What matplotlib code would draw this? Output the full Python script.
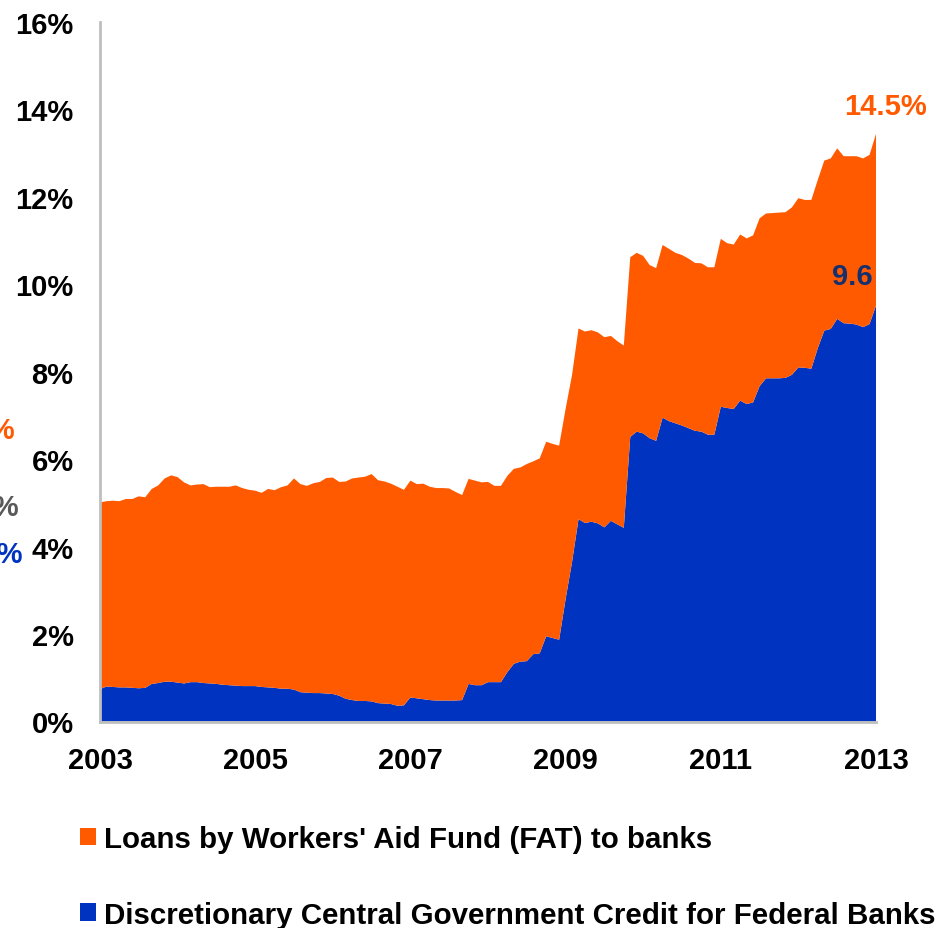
import numpy as np
import matplotlib
matplotlib.use("Agg")
import matplotlib.pyplot as plt
from matplotlib.patches import Patch

plt.rcParams['font.family'] = ['Liberation Sans', 'DejaVu Sans']
plt.rcParams['font.weight'] = 'bold'

# Monthly observations, Jan 2003 .. Jan 2013 (% of GDP)
start_year = 2003
n_months = 121

gov_credit = [
    0.74, 0.80, 0.79, 0.78, 0.78, 0.77, 0.76, 0.77, 0.86, 0.88, 0.91, 0.91,
    0.89, 0.87, 0.90, 0.90, 0.88, 0.87, 0.86, 0.84, 0.83, 0.82, 0.81, 0.81,
    0.81, 0.79, 0.78, 0.77, 0.75, 0.75, 0.73, 0.67, 0.66, 0.65, 0.65, 0.64,
    0.63, 0.59, 0.52, 0.49, 0.47, 0.47, 0.46, 0.42, 0.41, 0.40, 0.36, 0.37,
    0.55, 0.53, 0.51, 0.49, 0.48, 0.48, 0.48, 0.48, 0.49, 0.86, 0.83, 0.83,
    0.90, 0.90, 0.90, 1.13, 1.32, 1.37, 1.38, 1.54, 1.56, 1.95, 1.91, 1.87,
    2.80, 3.65, 4.63, 4.54, 4.57, 4.53, 4.44, 4.59, 4.51, 4.43, 6.51, 6.63,
    6.59, 6.48, 6.42, 6.95, 6.87, 6.82, 6.77, 6.71, 6.65, 6.63, 6.56, 6.56,
    7.20, 7.17, 7.15, 7.34, 7.26, 7.30, 7.67, 7.85, 7.85, 7.85, 7.86, 7.93,
    8.10, 8.09, 8.07, 8.54, 8.94, 8.98, 9.21, 9.11, 9.10, 9.08, 9.02, 9.09,
    9.51,
]

fat_loans = [
    4.27, 4.24, 4.26, 4.26, 4.31, 4.32, 4.39, 4.36, 4.46, 4.52, 4.65, 4.72,
    4.70, 4.60, 4.50, 4.52, 4.55, 4.49, 4.51, 4.53, 4.54, 4.58, 4.53, 4.49,
    4.47, 4.44, 4.54, 4.52, 4.61, 4.65, 4.83, 4.76, 4.73, 4.80, 4.83, 4.93,
    4.95, 4.89, 4.97, 5.07, 5.11, 5.13, 5.20, 5.10, 5.08, 5.04, 5.01, 4.93,
    4.96, 4.90, 4.93, 4.88, 4.86, 4.86, 4.85, 4.77, 4.69, 4.69, 4.68, 4.64,
    4.58, 4.49, 4.49, 4.49, 4.46, 4.44, 4.51, 4.41, 4.46, 4.45, 4.44, 4.44,
    4.35, 4.28, 4.36, 4.38, 4.38, 4.37, 4.35, 4.23, 4.19, 4.17, 4.11, 4.09,
    4.06, 3.96, 3.95, 3.95, 3.94, 3.90, 3.90, 3.88, 3.84, 3.85, 3.83, 3.83,
    3.84, 3.77, 3.76, 3.80, 3.79, 3.82, 3.84, 3.77, 3.78, 3.79, 3.79, 3.83,
    3.87, 3.84, 3.86, 3.85, 3.89, 3.90, 3.90, 3.82, 3.83, 3.85, 3.86, 3.87,
    3.93,
]

series_labels = [
    "Loans by Workers' Aid Fund (FAT) to banks",
    "Discretionary Central Government Credit for Federal Banks",
]

year_ticks = [2003, 2005, 2007, 2009, 2011, 2013]
pct_ticks = [0, 2, 4, 6, 8, 10, 12, 14, 16]

total_label = "14.5%"
gov_label = "9.6"

ORANGE = "#FF5A00"
BLUE = "#0033C0"
NAVY = "#14306E"
GRAY_TXT = "#595959"
AXIS_GRAY = "#BFBFBF"

x = start_year + np.arange(n_months) / 12.0

fig = plt.figure(figsize=(9.47, 9.29), dpi=100)
ax = fig.add_axes([100 / 947, 1 - 722.5 / 929, 776 / 947, 699.5 / 929])

ax.stackplot(x, gov_credit, fat_loans, colors=[BLUE, ORANGE], linewidth=0)

ax.set_xlim(2003, 2013)
ax.set_ylim(0, 16)
ax.set_xticks(year_ticks)
ax.set_xticklabels([str(y) for y in year_ticks])
ax.set_yticks(pct_ticks)
ax.set_yticklabels([f"{p}%" for p in pct_ticks])
ax.tick_params(axis='both', length=0, labelsize=21)
ax.tick_params(axis='y', pad=19)
ax.tick_params(axis='x', pad=18)
for lab in ax.get_xticklabels() + ax.get_yticklabels():
    lab.set_fontweight('bold')

for side in ('top', 'right'):
    ax.spines[side].set_visible(False)
for side in ('left', 'bottom'):
    ax.spines[side].set_color(AXIS_GRAY)
    ax.spines[side].set_linewidth(2)

# End-of-series labels
ax.text(2013.12, 14.08, total_label, color=ORANGE, fontsize=21,
        fontweight='bold', ha='center', va='center', clip_on=False)
ax.text(2012.69, 10.19, gov_label, color=NAVY, fontsize=21,
        fontweight='bold', ha='center', va='center', clip_on=False)

# Start-of-series labels sitting at the left margin
fig.text(15 / 947, 1 - 431 / 929, "5.0%", color=ORANGE, fontsize=21,
         fontweight='bold', ha='right', va='center')
fig.text(19 / 947, 1 - 508 / 929, "4.3%", color=GRAY_TXT, fontsize=21,
         fontweight='bold', ha='right', va='center')
fig.text(23 / 947, 1 - 555 / 929, "0.7%", color=BLUE, fontsize=21,
         fontweight='bold', ha='right', va='center')

handles = [Patch(facecolor=ORANGE, edgecolor='none'),
           Patch(facecolor=BLUE, edgecolor='none')]
fig.legend(handles, series_labels, loc='upper left',
           bbox_to_anchor=(80 / 947, 1 - 826 / 929), frameon=False,
           prop={'weight': 'bold', 'size': 21.25}, handlelength=0.55,
           handleheight=0.55, handletextpad=0.25, labelspacing=1.62,
           borderaxespad=0, borderpad=0)

fig.savefig("out.png", dpi=100)
